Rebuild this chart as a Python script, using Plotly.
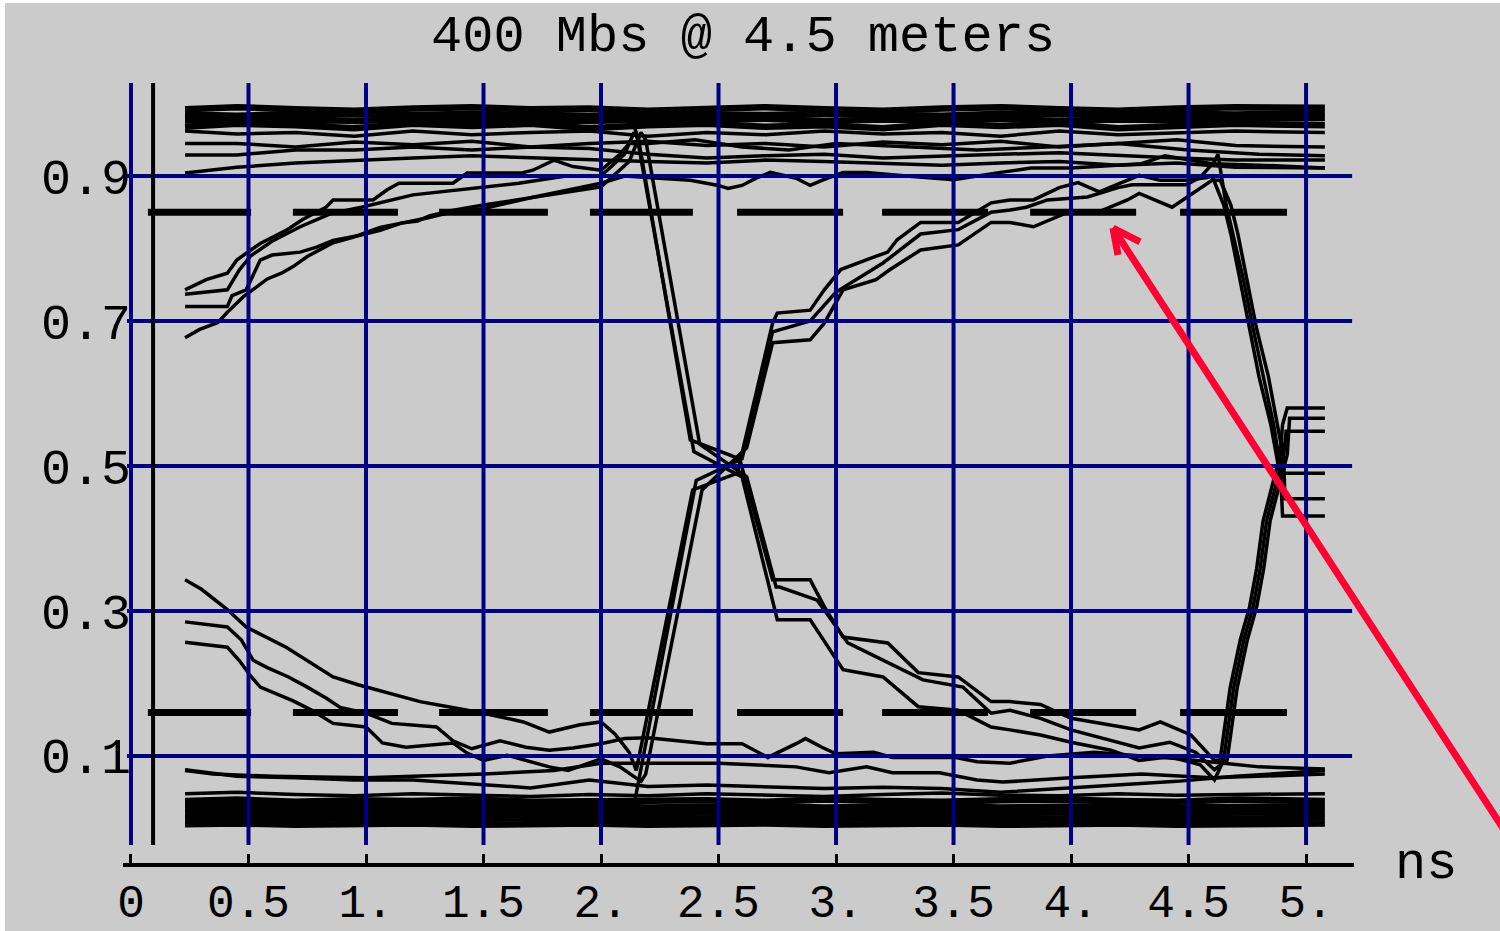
import plotly.graph_objects as go

# ---------------- data ----------------
x_ticks = [0, 0.5, 1, 1.5, 2, 2.5, 3, 3.5, 4, 4.5, 5]
x_labels = ["0", "0.5", "1.", "1.5", "2.", "2.5", "3.", "3.5", "4.", "4.5", "5."]
y_ticks = [0.1, 0.3, 0.5, 0.7, 0.9]
y_labels = ["0.1", "0.3", "0.5", "0.7", "0.9"]

# eye-diagram sweeps (time in ns, level)
a1_t = [0.23,0.30,0.41,0.49,0.66,0.75,0.86,0.97,1.10,1.23,1.35,1.50,1.67,1.78,1.91,2.00,2.06,2.12,2.15,2.39,
        2.58,2.73,2.75,2.89,2.95,3.02,3.16,3.22,3.26,3.36,3.52,3.66,3.74,3.84,3.95,4.03,4.12,4.24,4.29,4.38,
        4.49,4.58,4.60,4.65,4.68,4.72,4.76,4.80,4.85,4.88,4.90,5.08]
a1_v = [0.343,0.330,0.302,0.278,0.250,0.232,0.209,0.198,0.187,0.175,0.168,0.159,0.147,0.133,0.143,0.147,0.130,0.105,0.080,0.467,
        0.490,0.697,0.711,0.715,0.743,0.771,0.788,0.795,0.812,0.836,0.836,0.863,0.867,0.867,0.884,0.891,0.878,0.894,0.901,0.894,
        0.894,0.898,0.900,0.860,0.820,0.755,0.689,0.623,0.557,0.504,0.490,0.490]

a2_t = [0.23,0.41,0.46,0.51,0.55,0.61,0.69,0.77,0.86,1.00,1.07,1.17,1.37,1.43,1.50,1.60,1.78,1.86,2.00,2.08,
        2.17,2.19,2.43,2.62,2.73,2.89,2.95,3.03,3.17,3.23,3.36,3.52,3.66,3.74,3.84,3.98,4.12,4.24,4.29,4.43,
        4.55,4.60,4.635,4.68,4.71,4.75,4.79,4.84,4.88,4.905,4.91,5.08]
a2_v = [0.257,0.250,0.232,0.210,0.195,0.187,0.176,0.163,0.145,0.140,0.118,0.112,0.118,0.104,0.094,0.101,0.085,0.080,0.096,0.085,
        0.065,0.075,0.467,0.525,0.670,0.674,0.697,0.743,0.757,0.771,0.798,0.805,0.836,0.836,0.830,0.849,0.851,0.867,0.876,0.857,
        0.884,0.894,0.894,0.860,0.820,0.755,0.689,0.623,0.557,0.510,0.455,0.455]

a3_t = [0.23,0.60,1.00,1.40,1.80,2.10,2.145,2.405,2.60,2.73,2.89,3.00,3.20,3.36,3.52,3.66,3.74,3.81,3.90,4.07,
        4.20,4.26,4.49,4.55,4.61,4.625,4.66,4.69,4.735,4.775,4.82,4.862,4.89,4.90,5.08]
a3_v = [0.035,0.032,0.036,0.033,0.035,0.034,0.040,0.480,0.510,0.685,0.700,0.740,0.780,0.820,0.826,0.850,0.853,0.857,0.867,0.871,
        0.884,0.888,0.888,0.898,0.920,0.930,0.860,0.820,0.755,0.689,0.623,0.557,0.500,0.431,0.431]

b1_t = [0.23,0.41,0.46,0.51,0.60,0.72,0.85,0.98,1.20,1.40,1.65,1.85,2.00,2.10,2.14,2.16,2.38,2.59,2.73,2.75,
        2.89,2.95,3.03,3.22,3.35,3.52,3.66,3.74,3.87,4.00,4.17,4.29,4.38,4.51,4.61,4.634,4.677,4.72,4.76,4.79,
        4.817,4.86,4.89,4.90,4.92,5.08]
b1_v = [0.737,0.743,0.770,0.790,0.810,0.830,0.848,0.857,0.874,0.881,0.890,0.900,0.900,0.930,0.960,0.950,0.536,0.510,0.343,0.343,
        0.343,0.306,0.264,0.256,0.215,0.209,0.175,0.175,0.171,0.152,0.143,0.136,0.147,0.129,0.094,0.094,0.194,0.260,0.306,0.359,
        0.424,0.478,0.516,0.557,0.580,0.580]

b2_t = [0.23,0.29,0.37,0.41,0.48,0.54,0.58,0.64,0.69,0.75,0.80,0.86,0.94,1.00,1.06,1.15,1.22,1.27,1.36,1.50,
        1.70,1.90,2.00,2.12,2.17,2.19,2.42,2.62,2.745,2.76,2.92,3.05,3.23,3.37,3.54,3.66,3.74,3.87,4.00,4.17,
        4.29,4.42,4.53,4.61,4.664,4.707,4.75,4.79,4.82,4.847,4.89,4.92,4.93,5.08]
b2_v = [0.677,0.688,0.698,0.712,0.734,0.748,0.758,0.766,0.775,0.789,0.798,0.808,0.815,0.822,0.829,0.835,0.838,0.845,0.852,0.860,
        0.870,0.880,0.885,0.920,0.960,0.950,0.530,0.485,0.333,0.333,0.315,0.256,0.228,0.205,0.195,0.159,0.163,0.152,0.136,0.122,
        0.111,0.119,0.105,0.081,0.094,0.194,0.260,0.306,0.359,0.424,0.478,0.516,0.566,0.566]

b3_t = [0.23,0.60,1.00,1.50,2.00,2.13,2.15,2.395,2.60,2.73,2.75,2.89,3.03,3.20,3.35,3.52,3.66,3.74,3.87,4.00,
        4.17,4.29,4.42,4.55,4.61,4.649,4.692,4.735,4.775,4.805,4.832,4.875,4.905,4.915,5.08]
b3_v = [0.975,0.972,0.976,0.972,0.975,0.978,0.960,0.520,0.485,0.310,0.288,0.288,0.219,0.209,0.168,0.163,0.140,0.136,0.129,0.119,
        0.108,0.094,0.099,0.088,0.067,0.094,0.194,0.260,0.306,0.359,0.424,0.478,0.516,0.548,0.548]

c1_t = [0.23,0.32,0.41,0.45,0.51,0.55,0.66,0.73,0.83,0.86,1.03,1.09,1.14,1.37,1.43,1.51,1.66,1.71,1.80,1.88,
        2.00,2.08,2.12,2.20,2.40,2.60,2.80,3.00,3.30,3.60,3.90,4.20,4.50,4.80,5.08]
c1_v = [0.743,0.757,0.766,0.784,0.798,0.807,0.825,0.840,0.857,0.867,0.867,0.881,0.890,0.890,0.904,0.904,0.904,0.908,0.922,0.913,
        0.908,0.930,0.945,0.945,0.950,0.940,0.936,0.945,0.940,0.936,0.940,0.945,0.936,0.930,0.928]

c2_t = [0.23,0.41,0.43,0.49,0.55,0.60,0.72,0.79,0.86,0.97,1.06,1.15,1.26,1.36,1.50,1.70,1.85,2.00,2.10,2.38,
        2.50,2.54,2.60,2.66,2.72,2.77,2.83,2.89,2.94,3.03,3.13,3.30,3.50,3.70,3.83,4.00,4.30,4.40,4.60,4.80,5.08]
c2_v = [0.720,0.720,0.735,0.743,0.784,0.791,0.795,0.802,0.811,0.818,0.825,0.835,0.842,0.850,0.855,0.870,0.880,0.890,0.900,0.894,
        0.887,0.883,0.887,0.897,0.905,0.901,0.897,0.887,0.894,0.905,0.905,0.900,0.895,0.905,0.911,0.911,0.917,0.928,0.917,0.915,0.911]

e1_t = [0.23,0.41,0.47,0.52,0.58,0.67,0.75,0.83,0.89,1.00,1.11,1.30,1.37,1.45,1.57,1.68,1.78,1.88,2.00,2.10,
        2.20,2.45,2.60,2.71,2.83,2.87,2.94,3.00,3.16,3.24,3.51,3.60,3.74,3.90,4.10,4.30,4.50,4.65,4.80,5.08]
e1_v = [0.285,0.278,0.260,0.232,0.222,0.209,0.195,0.180,0.167,0.159,0.145,0.140,0.121,0.110,0.121,0.112,0.108,0.111,0.117,0.124,
        0.125,0.117,0.117,0.098,0.117,0.124,0.112,0.103,0.105,0.098,0.098,0.092,0.090,0.100,0.105,0.100,0.095,0.090,0.085,0.082]

e2_t = [0.23,0.35,0.60,1.00,1.50,1.80,2.00,2.50,2.83,2.97,3.13,3.24,3.44,3.60,3.71,4.00,4.30,4.60,5.08]
e2_v = [0.080,0.075,0.072,0.070,0.075,0.080,0.090,0.090,0.085,0.077,0.085,0.077,0.077,0.067,0.064,0.070,0.075,0.070,0.075]

# steady rails (high and low levels)
rail_t = [0.23,0.45,0.70,0.95,1.20,1.45,1.70,1.95,2.20,2.45,2.70,2.95,3.20,3.45,3.70,3.95,4.20,4.45,4.70,5.08]
top1 = [0.992,0.995,0.992,0.990,0.993,0.995,0.992,0.993,0.990,0.993,0.995,0.992,0.990,0.993,0.995,0.992,0.990,0.993,0.995,0.994]
top2 = [0.985,0.983,0.986,0.985,0.984,0.986,0.985,0.983,0.986,0.985,0.984,0.986,0.985,0.983,0.986,0.985,0.984,0.986,0.985,0.987]
top3 = [0.978,0.977,0.979,0.976,0.978,0.977,0.979,0.976,0.978,0.977,0.979,0.976,0.978,0.977,0.979,0.976,0.978,0.977,0.979,0.980]
top4 = [0.968,0.972,0.970,0.966,0.972,0.969,0.972,0.966,0.970,0.972,0.968,0.970,0.966,0.972,0.969,0.972,0.966,0.970,0.972,0.970]
top5 = [0.962,0.958,0.960,0.955,0.962,0.957,0.960,0.962,0.955,0.960,0.957,0.962,0.958,0.960,0.955,0.962,0.957,0.960,0.962,0.960]
top6 = [0.945,0.945,0.940,0.947,0.943,0.948,0.940,0.945,0.948,0.942,0.945,0.940,0.947,0.943,0.948,0.940,0.945,0.950,0.942,0.940]
top7 = [0.929,0.929,0.936,0.936,0.940,0.936,0.940,0.938,0.930,0.925,0.928,0.930,0.925,0.928,0.930,0.932,0.928,0.925,0.922,0.922]
top8 = [0.904,0.912,0.918,0.922,0.925,0.928,0.925,0.922,0.920,0.918,0.922,0.920,0.918,0.915,0.918,0.920,0.915,0.918,0.912,0.911]
low1 = [0.081,0.072,0.070,0.067,0.067,0.062,0.056,0.067,0.058,0.060,0.057,0.055,0.057,0.055,0.050,0.055,0.060,0.065,0.072,0.080]
low2 = [0.048,0.050,0.047,0.045,0.048,0.046,0.044,0.047,0.045,0.048,0.046,0.044,0.047,0.049,0.046,0.045,0.048,0.046,0.047,0.048]
low3 = [0.038,0.040,0.037,0.039,0.038,0.040,0.037,0.038,0.040,0.039,0.037,0.040,0.038,0.037,0.039,0.040,0.038,0.037,0.040,0.038]
low4 = [0.030,0.031,0.029,0.030,0.031,0.029,0.030,0.031,0.029,0.030,0.031,0.029,0.030,0.031,0.029,0.030,0.031,0.029,0.030,0.031]
low5 = [0.022,0.023,0.021,0.022,0.023,0.021,0.022,0.023,0.021,0.022,0.023,0.021,0.022,0.023,0.021,0.022,0.023,0.021,0.022,0.023]
low6 = [0.014,0.015,0.013,0.014,0.015,0.013,0.014,0.015,0.013,0.014,0.015,0.013,0.014,0.015,0.013,0.014,0.015,0.013,0.014,0.015]
low7 = [0.006,0.007,0.005,0.006,0.007,0.005,0.006,0.007,0.005,0.006,0.007,0.005,0.006,0.007,0.005,0.006,0.007,0.005,0.006,0.007]

# mask bars
mask_start = [0.072, 0.689, 1.311, 1.953, 2.579, 3.196, 3.826, 4.464]
mask_end = [0.511, 1.136, 1.774, 2.391, 3.030, 3.647, 4.277, 4.919]
mask_levels = [0.85, 0.16]
marker_line_x = 0.094

# ---------------- figure ----------------
FONT = "Liberation Mono"
NAVY = "#000080"
BG = "#cbcbcb"
fig = go.Figure()

def add(t, v, w=3):
    fig.add_trace(go.Scatter(x=t, y=v, mode="lines", line=dict(color="black", width=w),
                             showlegend=False, hoverinfo="skip"))

for arr in [top1, top2, top3, top4]:
    add(rail_t, arr, 6.5)
for arr in [top5, top6, top7, top8]:
    add(rail_t, arr, 3.5)
for arr in [low3, low4, low5, low6, low7]:
    add(rail_t, arr, 6.5)
for arr in [low1, low2]:
    add(rail_t, arr, 3.5)

for t, v in [(a1_t, a1_v), (a2_t, a2_v), (a3_t, a3_v), (b1_t, b1_v), (b2_t, b2_v), (b3_t, b3_v),
             (c1_t, c1_v), (c2_t, c2_v), (e1_t, e1_v), (e2_t, e2_v)]:
    add(t, v, 3.5)

mx, my = [], []
for lvl in mask_levels:
    for s, e in zip(mask_start, mask_end):
        mx += [s, e, None]
        my += [lvl, lvl, None]
add(mx, my, 7)

shapes = []
y_lo, y_hi = -0.0228, 1.0283
for xv in x_ticks:
    shapes.append(dict(type="line", xref="x", yref="y", x0=xv, x1=xv, y0=y_lo, y1=y_hi,
                       line=dict(color=NAVY, width=4), layer="above"))
for yv in y_ticks:
    shapes.append(dict(type="line", xref="x", yref="y", x0=-0.017, x1=5.196, y0=yv, y1=yv,
                       line=dict(color=NAVY, width=4), layer="above"))
shapes.append(dict(type="line", xref="x", yref="y", x0=marker_line_x, x1=marker_line_x, y0=y_lo, y1=y_hi,
                   line=dict(color="black", width=4), layer="above"))

# white edge strips of the screenshot
shapes.append(dict(type="rect", xref="paper", yref="paper", x0=-0.1005, x1=-0.0959, y0=-0.09, y1=1.11,
                   fillcolor="white", line=dict(width=0), layer="above"))
shapes.append(dict(type="rect", xref="paper", yref="paper", x0=-0.1005, x1=1.13, y0=1.1026, y1=1.11,
                   fillcolor="white", line=dict(width=0), layer="above"))

# red arrow
RED = "#ff0033"
tip = (0.8042, 0.8141)
for end in [(1.1267, 0.0308), (0.8083, 0.7795), (0.8262, 0.7962)]:
    shapes.append(dict(type="line", xref="paper", yref="paper", x0=tip[0], y0=tip[1], x1=end[0], y1=end[1],
                       line=dict(color=RED, width=7), layer="above"))

fig.update_layout(
    width=1500, height=931,
    margin=dict(l=123, r=146, t=83, b=68, pad=0, autoexpand=False),
    paper_bgcolor=BG, plot_bgcolor=BG,
    title=dict(text="400 Mbs @ 4.5 meters", x=0.5037, xref="paper", xanchor="center",
               y=1 - 33 / 931, yref="container", yanchor="middle",
               font=dict(family=FONT, size=52, color="black")),
    xaxis=dict(range=[-0.034, 5.204], tickvals=x_ticks, ticktext=x_labels, ticks="inside",
               ticklen=9, tickwidth=3, tickcolor="black", showline=True, linecolor="black",
               linewidth=4, showgrid=False, zeroline=False, ticklabelstandoff=-5, automargin=False,
               tickfont=dict(family=FONT, size=46, color="black")),
    yaxis=dict(range=[-0.0476, 1.0283], tickvals=y_ticks, ticktext=y_labels, ticks="",
               showgrid=False, zeroline=False, showline=False, anchor="free", position=0.0065,
               ticklabelstandoff=0, automargin=False,
               tickfont=dict(family=FONT, size=50, color="black")),
    shapes=shapes,
    annotations=[dict(text="ns", xref="paper", yref="paper", x=1.0585, y=-0.002,
                      xanchor="center", yanchor="middle", showarrow=False,
                      font=dict(family=FONT, size=52, color="black"))],
)

fig.write_html("out.html")
